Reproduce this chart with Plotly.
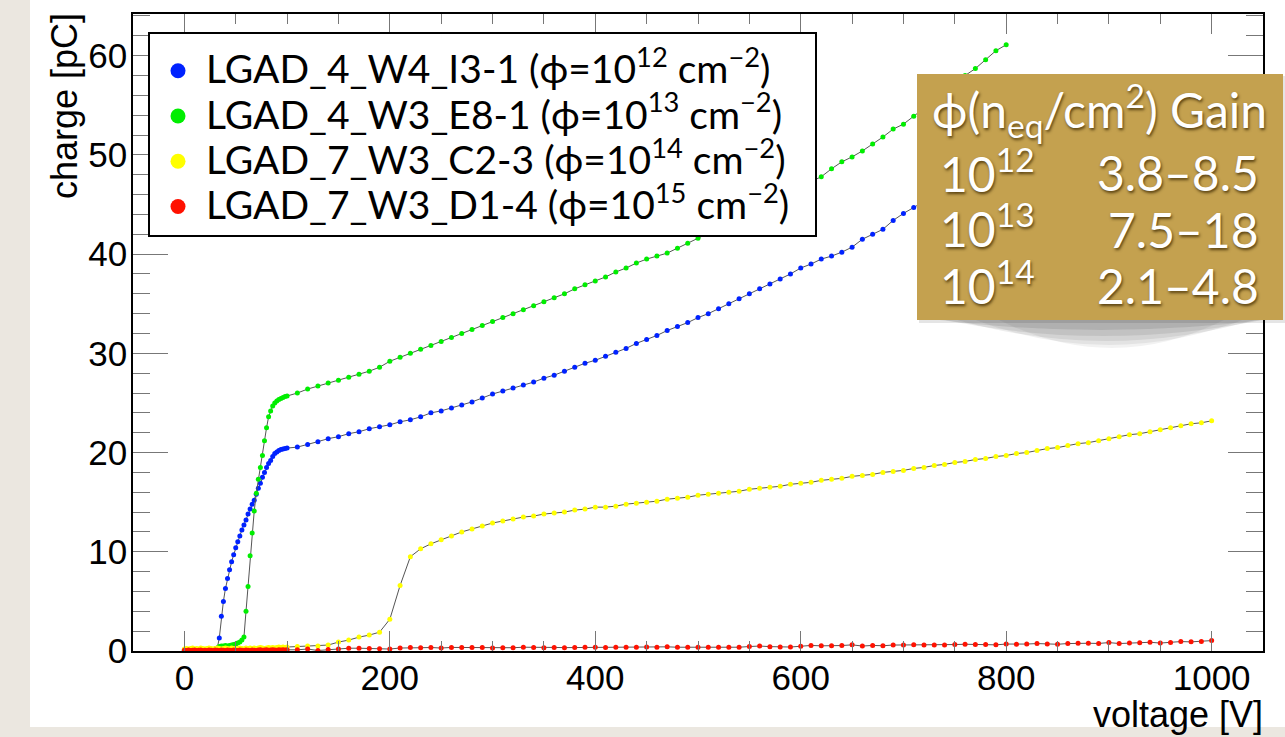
import plotly.graph_objects as go

# ---------------- data ----------------
volt_fine = [0, 2, 4, 6, 8, 10, 12, 14, 16, 18, 20, 22, 24, 26, 28, 30, 32, 34, 36, 38,
             40, 42, 44, 46, 48, 50, 52, 54, 56, 58, 60, 62, 64, 66, 68, 70, 72, 74, 76, 78,
             80, 82, 84, 86, 88, 90, 92, 94, 96, 98, 100]
volt_coarse = [110, 120, 130, 140, 150, 160, 170, 180, 190, 200,
               210, 220, 230, 240, 250, 260, 270, 280, 290, 300,
               310, 320, 330, 340, 350, 360, 370, 380, 390, 400,
               410, 420, 430, 440, 450, 460, 470, 480, 490, 500,
               510, 520, 530, 540, 550, 560, 570, 580, 590, 600,
               610, 620, 630, 640, 650, 660, 670, 680, 690, 700,
               710, 720, 730, 740, 750, 760, 770, 780, 790, 800,
               810, 820, 830, 840, 850, 860, 870, 880, 890, 900,
               910, 920, 930, 940, 950, 960, 970, 980, 990, 1000]

blue_fine = [0.1, 0.05, 0.1, 0.05, 0.1, 0.05, 0.1, 0.05, 0.1, 0.1, 0.05, 0.1, 0.1, 0.1, 0.15, 0.2, 0.3,
             1.3, 3.5, 5.0, 6.3, 7.3, 8.2, 9.0, 9.7, 10.4, 11.0, 11.6, 12.2, 12.7, 13.2, 13.8, 14.3,
             14.8, 15.2, 15.8, 16.4, 16.9, 17.5, 18.0, 18.5, 18.9, 19.2, 19.6, 19.9, 20.05, 20.2,
             20.3, 20.35, 20.4, 20.45]
blue_coarse = [20.55, 20.8, 21.1, 21.4, 21.6, 21.9, 22.1, 22.4, 22.6, 22.8,
               23.1, 23.3, 23.6, 24.0, 24.2, 24.5, 24.8, 25.1, 25.5, 25.9,
               26.2, 26.5, 26.8, 27.1, 27.5, 27.8, 28.2, 28.6, 29.0, 29.3,
               29.7, 30.1, 30.5, 31.0, 31.4, 31.8, 32.3, 32.7, 33.1, 33.6,
               34.0, 34.5, 35.0, 35.5, 36.0, 36.5, 37.0, 37.5, 38.0, 38.6,
               39.0, 39.5, 39.8, 40.2, 40.7, 41.5, 42.0, 42.5, 43.4, 44.1,
               44.7, 45.3, 45.9, 46.5, 47.1, 47.8, 48.4, 49.0, 49.6, 50.2]

green_fine = [0.05, 0.1, 0.05, 0.1, 0.05, 0.1, 0.05, 0.1, 0.05, 0.1, 0.05, 0.1, 0.1, 0.1, 0.15, 0.2,
              0.3, 0.45, 0.5, 0.5, 0.55, 0.5, 0.55, 0.6, 0.65, 0.7, 0.8, 0.9, 1.1, 1.4,
              4.0, 6.5, 9.6, 11.9, 14.1, 15.9, 17.3, 18.5, 19.7, 21.2, 22.5, 23.6, 24.2, 24.7,
              25.0, 25.2, 25.35, 25.45, 25.55, 25.65, 25.7]
green_coarse = [26.0, 26.4, 26.7, 27.0, 27.3, 27.6, 27.9, 28.2, 28.6, 29.2,
                29.6, 30.0, 30.4, 30.8, 31.2, 31.6, 32.0, 32.4, 32.8, 33.2,
                33.6, 34.0, 34.4, 34.8, 35.2, 35.6, 36.0, 36.5, 36.9, 37.3,
                37.7, 38.2, 38.6, 39.1, 39.5, 39.8, 40.1, 40.6, 41.1, 41.6,
                42.1, 42.6, 43.1, 43.6, 44.1, 44.7, 45.2, 45.7, 46.2, 46.8,
                47.3, 47.8, 48.6, 49.3, 49.8, 50.4, 51.1, 51.8, 52.6, 53.1,
                53.9, 54.7, 55.5, 56.3, 57.2, 58.0, 58.7, 59.6, 60.5, 61.1]

yellow_fine = [0.2, 0.25, 0.2, 0.25, 0.3, 0.2, 0.25, 0.2, 0.3, 0.25, 0.2, 0.25, 0.3, 0.25, 0.2, 0.25, 0.3,
               0.25, 0.2, 0.25, 0.3, 0.25, 0.2, 0.3, 0.25, 0.2, 0.25, 0.3, 0.25, 0.2, 0.3, 0.25, 0.3,
               0.25, 0.3, 0.25, 0.3, 0.35, 0.3, 0.25, 0.3, 0.35, 0.3, 0.35, 0.3, 0.35, 0.4, 0.35,
               0.4, 0.35, 0.4]
yellow_coarse = [0.45, 0.5, 0.5, 0.6, 0.9, 1.1, 1.4, 1.6, 1.9, 3.2,
                 6.6, 9.5, 10.3, 10.8, 11.2, 11.6, 12.0, 12.3, 12.6, 12.9,
                 13.1, 13.3, 13.5, 13.6, 13.8, 13.9, 14.0, 14.2, 14.3, 14.5,
                 14.5, 14.6, 14.8, 14.9, 15.0, 15.1, 15.3, 15.4, 15.5, 15.7,
                 15.8, 15.9, 16.0, 16.1, 16.3, 16.4, 16.5, 16.6, 16.8, 16.9,
                 17.0, 17.2, 17.3, 17.4, 17.6, 17.7, 17.8, 18.0, 18.1, 18.2,
                 18.4, 18.5, 18.7, 18.8, 19.0, 19.1, 19.3, 19.4, 19.6, 19.7,
                 19.9, 20.0, 20.2, 20.4, 20.5, 20.7, 20.9, 21.0, 21.2, 21.4,
                 21.6, 21.8, 21.9, 22.1, 22.3, 22.5, 22.7, 22.9, 23.0, 23.2]

red_fine = [0.08, 0.05, 0.1, 0.06, 0.08, 0.1, 0.05, 0.08, 0.1, 0.06, 0.08, 0.05, 0.1, 0.08, 0.06, 0.1, 0.08,
            0.05, 0.1, 0.08, 0.06, 0.1, 0.08, 0.05, 0.1, 0.08, 0.06, 0.1, 0.08, 0.05, 0.1, 0.08, 0.06,
            0.1, 0.08, 0.05, 0.1, 0.12, 0.08, 0.1, 0.12, 0.08, 0.1, 0.12, 0.1, 0.08, 0.12, 0.1,
            0.12, 0.1, 0.12]
red_coarse = [0.12, 0.2, 0.05, 0.15, 0.2, 0.28, 0.28, 0.26, 0.22, 0.2,
              0.3, 0.35, 0.33, 0.35, 0.3, 0.36, 0.36, 0.35, 0.36, 0.3,
              0.32, 0.33, 0.38, 0.35, 0.33, 0.36, 0.34, 0.35, 0.38, 0.38,
              0.36, 0.37, 0.37, 0.38, 0.4, 0.38, 0.42, 0.38, 0.38, 0.37,
              0.38, 0.38, 0.38, 0.38, 0.45, 0.5, 0.44, 0.4, 0.4, 0.48,
              0.56, 0.52, 0.52, 0.55, 0.62, 0.5, 0.56, 0.53, 0.6, 0.6,
              0.62, 0.6, 0.6, 0.6, 0.65, 0.68, 0.66, 0.66, 0.62, 0.7,
              0.68, 0.7, 0.75, 0.7, 0.68, 0.75, 0.78, 0.78, 0.76, 0.85,
              0.75, 0.8, 0.82, 0.88, 0.8, 0.85, 0.95, 0.92, 0.95, 1.05]

series_names = [
    "LGAD_4_W4_I3-1 (ϕ=10<sup>12</sup> cm<sup>−2</sup>)",
    "LGAD_4_W3_E8-1 (ϕ=10<sup>13</sup> cm<sup>−2</sup>)",
    "LGAD_7_W3_C2-3 (ϕ=10<sup>14</sup> cm<sup>−2</sup>)",
    "LGAD_7_W3_D1-4 (ϕ=10<sup>15</sup> cm<sup>−2</sup>)",
]
series_colors = ["#0022ff", "#00ee00", "#ffff00", "#ff1100"]

gain_header = "ϕ(n<sub>eq</sub>/cm<sup>2</sup>) Gain"
gain_fluence = ["10<sup>12</sup>", "10<sup>13</sup>", "10<sup>14</sup>"]
gain_range = ["3.8–8.5", "7.5–18", "2.1–4.8"]

x_ticks = [0, 200, 400, 600, 800, 1000]
y_ticks = [0, 10, 20, 30, 40, 50, 60]

# ---------------- layout geometry (pixels) ----------------
W, H = 1285, 737
L, R, T, B = 133, 1263, 14, 651


def px(xp):
    return (xp - L) / (R - L)


def py(yp):
    return (B - yp) / (B - T)


series = [
    (volt_fine + volt_coarse[:70], blue_fine + blue_coarse),
    (volt_fine + volt_coarse[:70], green_fine + green_coarse),
    (volt_fine + volt_coarse, yellow_fine + yellow_coarse),
    (volt_fine + volt_coarse, red_fine + red_coarse),
]

fig = go.Figure()
for (xs, ys), name, col in zip(series, series_names, series_colors):
    fig.add_trace(go.Scatter(
        x=xs, y=ys, mode="lines+markers", name=name, showlegend=False,
        line=dict(color="#555555", width=1),
        marker=dict(color=col, size=5, symbol="circle", line=dict(width=0)),
    ))
# legend entries (larger symbols as in the original)
for name, col in zip(series_names, series_colors):
    fig.add_trace(go.Scatter(
        x=[None], y=[None], mode="markers",
        name=f'<span style="font-size:39px">{name}\u00a0\u00a0</span>',
        marker=dict(color=col, size=15, symbol="circle"),
    ))

shapes = []
# white page area over beige background
shapes.append(dict(type="rect", xref="paper", yref="paper", layer="below",
                   x0=px(30), x1=px(1290), y0=py(727), y1=py(-5),
                   fillcolor="white", line=dict(width=0)))
# soft curled shadow under the gain box


def shadow_path(xl, xr, depth):
    xm = (xl + xr) / 2
    return (f"M {px(xl)},{py(318)} L {px(xr)},{py(318)} "
            f"Q {px(xm)},{py(318 + 2 * depth)} {px(xl)},{py(318)} Z")


for (xl, xr, d, a) in [(922, 1280, 12, 0.09), (935, 1272, 18, 0.08), (950, 1262, 23, 0.07),
                       (970, 1248, 27, 0.06), (995, 1228, 30, 0.05)]:
    shapes.append(dict(type="path", xref="paper", yref="paper", layer="above",
                       path=shadow_path(xl, xr, d),
                       fillcolor=f"rgba(0,0,0,{a})", line=dict(width=0)))
shapes.append(dict(type="rect", xref="paper", yref="paper", layer="above",
                   x0=px(919), x1=px(1285), y0=py(323), y1=py(76),
                   fillcolor="rgba(0,0,0,0.10)", line=dict(width=0)))
# gain box
shapes.append(dict(type="rect", xref="paper", yref="paper", layer="above",
                   x0=px(917), x1=px(1283), y0=py(320), y1=py(74),
                   fillcolor="#c4a14f", line=dict(width=0)))

annotations = []
txt_font = dict(family="Lato, 'Noto Sans', sans-serif", size=48, color="white",
                shadow="1px 2px 3px rgba(60,40,0,0.8)")
annotations.append(dict(text=gain_header, xref="paper", yref="paper", x=px(1099), y=py(110),
                        xanchor="center", yanchor="middle", showarrow=False, font=txt_font))
for i, (fl, gr) in enumerate(zip(gain_fluence, gain_range)):
    yc = 173 + 56 * i
    annotations.append(dict(text=fl, xref="paper", yref="paper", x=px(938), y=py(yc - 3),
                            xanchor="left", yanchor="middle", showarrow=False, font=txt_font))
    annotations.append(dict(text=gr, xref="paper", yref="paper", x=px(1261), y=py(yc),
                            xanchor="right", yanchor="middle", showarrow=False, font=txt_font))

axis_font = dict(family="'Liberation Sans', Arial, sans-serif", size=35, color="black")
title_font = dict(family="'Liberation Sans', Arial, sans-serif", size=36, color="black")
annotations.append(dict(text="charge [pC]", xref="paper", yref="paper", x=px(64), y=py(11),
                        xanchor="center", yanchor="top", textangle=-90, showarrow=False,
                        font=title_font))
annotations.append(dict(text="voltage [V]", xref="paper", yref="paper", x=px(1265), y=py(714),
                        xanchor="right", yanchor="middle", showarrow=False, font=title_font))

fig.update_layout(
    width=W, height=H,
    margin=dict(l=L, r=W - R, t=T, b=H - B, pad=0),
    paper_bgcolor="#ebe7e0",
    plot_bgcolor="white",
    font=dict(family="'Liberation Sans', Arial, sans-serif", color="black"),
    showlegend=True,
    legend=dict(x=px(148), y=py(32), xanchor="left", yanchor="top",
                bgcolor="white", bordercolor="black", borderwidth=2,
                font=dict(family="Lato, 'Noto Sans', sans-serif", size=32.5, color="black"),
                title=dict(text=" ", font=dict(size=7)),
                itemsizing="trace", itemwidth=46, tracegroupgap=0),
    shapes=shapes,
    annotations=annotations,
)
fig.update_xaxes(range=[-50, 1050], tickvals=x_ticks, ticktext=[str(v) for v in x_ticks],
                 ticks="inside", ticklen=20, tickwidth=1, tickcolor="#777777",
                 minor=dict(dtick=50, tick0=0, ticks="inside", ticklen=10, tickcolor="#777777", tickwidth=1),
                 showline=True, linecolor="black", linewidth=1.5, mirror="allticks",
                 showgrid=False, zeroline=False, tickfont=axis_font, ticklabelstandoff=-5)
fig.update_yaxes(range=[0, 64.2], tickvals=y_ticks, ticktext=[str(v) for v in y_ticks],
                 ticks="inside", ticklen=35, tickwidth=1, tickcolor="#777777",
                 minor=dict(dtick=2, tick0=0, ticks="inside", ticklen=17, tickcolor="#777777", tickwidth=1),
                 showline=True, linecolor="black", linewidth=1.5, mirror="allticks",
                 showgrid=False, zeroline=False, tickfont=axis_font, ticklabelstandoff=-3)

fig.write_html("out.html",
               config={"displayModeBar": False},
               post_script="document.body.style.margin='0px';"
                           "document.body.style.background='#ebe7e0';")
